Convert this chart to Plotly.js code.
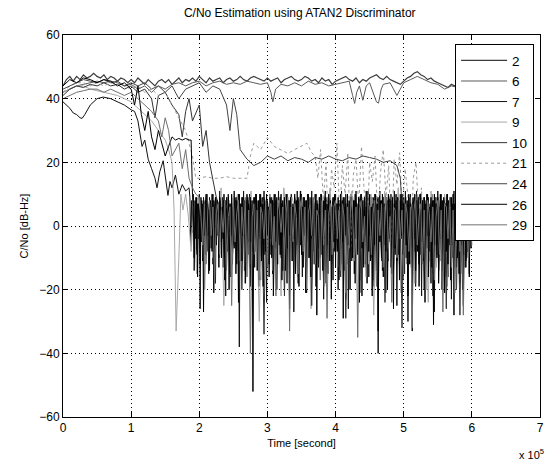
<!DOCTYPE html>
<html>
<head>
<meta charset="utf-8">
<script src="https://cdn.plot.ly/plotly-3.0.1.min.js"></script>
<style>html,body{margin:0;padding:0;background:#fff;}#chart{width:550px;height:462px;}</style>
</head>
<body>
<div id="chart"></div>
<script>
// Time axis in units of 1e5 seconds
const prnLabels = ['2','6','7','9','10','21','24','26','29'];

// ---- PRN 2: stays locked, uniformly sampled ----
const s2_start = 0, s2_step = 0.05;
const s2_v = [44,46,47,45.5,47,46,47.5,46.5,47,48, 47,46.5,47.5,46,47,46.5,45.5,46.5,46,45,
  46,45,46.5,45.5,44.5,46,45,44,45.5,46, 45,46,44.5,45.5,46.5,45,46,45.5,46.5,45.5,
  47,46,45,46.5,45.5,46,46.5,45,46,46.5, 45.5,46,47,46,45.5,46.5,47,46.5,46,45.5,
  46.5,45.5,46,46.5,45,46,46.5,47,46,45.5, 46,47,46.5,45.5,46,45,46.5,45.5,46,44.5,
  45.5,46,46.5,47,46,45.5,46.5,45,46,45.5, 46.5,47,47.5,46.5,46,47,46,45.5,45,44.5,
  45.5,46.5,47,48,48.5,47.5,47,46,46.5,45.5, 45,44.5,44,43.5,44.5,44,45,44.5];

// ---- tracking (high C/No) segments: time, value pairs ----
const s6_t = [0,0.1,0.2,0.3,0.4,0.5,0.6,0.7,0.8,0.9,1.0,1.1,1.2,1.3,1.4,1.5,1.6,1.7,1.8,1.9,2.0,2.1,2.2,2.3,2.4,2.5,2.6,2.7,2.8,2.9,3.0,3.05,3.08,3.12,3.2,3.3,3.4,3.5,3.6,3.7,3.8,3.9,4.0,4.1,4.2,4.25,4.28,4.31,4.35,4.4,4.45,4.5,4.55,4.6,4.63,4.67,4.7,4.8,4.85,4.9,4.95,5.0,5.1,5.2,5.3,5.4,5.5,5.6,5.7,5.8];
const s6_v = [42,43,44,44.5,45,45.5,45,45.5,45,44,44.5,43,44,42,44,43,44.5,45,44,45,45.5,44,45,45.5,44.5,45,44.5,45.5,45,44.5,45,42,39,43,44.5,44,45,44,45.5,44.5,45,44,44.5,45,45.5,41,38.5,42,44,39.5,44,45,42,39,38.6,43,44.5,45,43,41,43,45,46,47,46,45,44.5,43,44,43.5];

const s7_t = [0,0.05,0.1,0.15,0.2,0.25,0.28,0.32,0.4,0.5,0.59,0.7,0.8,0.9,1.0,1.05,1.1,1.16,1.2,1.25,1.3,1.35,1.38,1.42,1.47,1.5,1.54,1.57,1.6,1.65,1.7,1.75,1.8];
const s7_v = [39,38,37,35.5,35,34,33.8,35,38,40,40.5,40,39,38,36.5,36,33,25,27,21,18,15,12,17,20.5,16,9.6,14,12,16,10,13,11];

const s9_t = [0,0.1,0.2,0.3,0.4,0.5,0.6,0.7,0.8,0.9,1.0,1.1,1.2,1.3,1.4,1.5,1.55,1.6,1.63,1.66,1.7,1.73,1.76];
const s9_v = [42,43,44,44,43,42.5,42,41.5,41,40,39,37,35,33,30,27,24,20,5,-33,-10,10,5];

const s10_t = [0,0.1,0.2,0.3,0.4,0.5,0.6,0.7,0.8,0.9,1.0,1.1,1.2,1.3,1.35,1.4,1.5,1.6,1.7,1.75,1.8,1.85,1.9,2.0,2.05,2.1,2.15,2.2,2.25];
const s10_v = [41,43,44,43.5,44.5,44,45,44,44.5,43,44,42,43,40,34,41,42,38,35,28,36,40,33,38,25,30,20,14,9];

const s21_t = [0,0.1,0.2,0.3,0.4,0.5,0.6,0.7,0.8,0.9,1.0,1.1,1.2,1.3,1.4,1.5,1.6,1.7,1.8,1.9,1.95,2.0,2.1,2.2,2.3,2.4,2.5,2.6,2.7,2.75,2.8,2.9,3.0,3.1,3.2,3.3,3.4,3.5,3.58,3.65];
const s21_v = [42,44,45,45,44,45,44,45,44.5,44,43,44,42,43,41,42,38,34,30,22,15,15,15.5,15,15,15.5,15,15,15,22,26,24,27.8,25,24,22.8,24,25,26,23];

const s24_t = [0,0.1,0.2,0.3,0.4,0.5,0.6,0.7,0.8,0.9,1.0,1.1,1.2,1.3,1.4,1.5,1.6,1.7,1.8,1.9,2.0,2.1,2.2,2.3,2.4,2.45,2.5,2.55,2.6,2.7,2.8,2.9,3.0,3.1,3.2,3.3,3.4,3.5,3.6,3.7,3.8,3.9,4.0,4.1,4.2,4.3,4.4,4.5,4.6,4.7,4.8,4.9];
const s24_v = [43,44,45,46,45.5,45,46,45,45.5,44,45,44,45,43,44,42,44,40,43,44,45,42,44,43,38,30,40,35,24,21,19,20,22,21,22,20.5,21.5,21,20,21.5,21,22,21,20.5,21.5,21,22,21.5,21,20,20.5,19];

const s26_t = [0,0.1,0.2,0.3,0.4,0.5,0.6,0.7,0.8,0.9,1.0,1.05,1.1,1.15,1.2,1.25,1.3,1.35,1.4,1.45,1.5,1.55,1.6,1.65,1.7,1.75,1.8,1.85,1.88];
const s26_v = [44,46,45,46.5,46,45,46,45.5,44,45,43,38,44,35,30,36,28,24,30,26,22,25,28,27,27.5,27,27.5,27,27];

const s29_t = [0,0.1,0.2,0.3,0.4,0.5,0.6,0.7,0.8,0.9,1.0,1.1,1.2,1.3,1.4,1.45,1.5,1.55,1.6,1.7,1.75,1.8,1.85,1.9,1.95];
const s29_v = [40,41,42,42.5,43,43,42,43,42,41,42,40,38,36,33,28,34,30,22,26,18,24,15,12,10];

// ---- loss-of-lock (noisy) segments: uniformly sampled values ----
const n7_start = 1.85, n7_step = 0.0125;
const n7_v = [12,9,-6,8,-2,10,-14,6,9,-9, 7,-4,10,-26,5,8,-11,9,-3,7, 10,-8,6,-15,9,4,-7,10,-12,8, 5,-18,9,-3,7,-10,11,6,-5,9,
  -13,8,4,-22,9,-6,10,-2,7,-16, 9,-9,6,11,-4,8,-12,5,10,-38, 7,-7,9,-3,11,-14,6,8,-10,9, -5,10,-19,7,4,-8,9,-13,10,6,
  -2,8,-11,10,-17,6,9,-6,11,-9, 7,-24,8,5,-12,10,-4,9,-15,6, 10,-7,8,-20,6,11,-3,9,-10,7, -14,9,5,-8,10,-18,7,-2,8,-11,
  10,-5,6,-27,9,7,-9,11,-13,8, 4,-6,10,-16,7,9,-3,8,-21,10, 6,-10,9,-4,11,-12,7,-8,10,-19, 8,5,-13,9,-2,10,-9,6,-23,8,
  11,-6,7,-15,9,-4,10,-11,6,-17, 9,-8,10,-3,7,-20,8,5,-12,11, -5,9,-14,6,10,-9,8,-26,7,-3, 10,-11,9,-6,8,-18,11,4,-8,9,
  -13,7,10,-22,8,-5,9,-12,6,-7, 11,-16,8,-3,9,-10,7,-19,10,6, -8,9,-40,7,11,-4,8,-14,9,-6, 10,-21,6,8,-11,9,-3,10,-15,7,
  -7,11,-9,8,-25,9,5,-12,10,-4, 8,-17,9,-6,11,-10,7,-30,9,-2, 10,-13,6,8,-8,9,-19,11,-5,7, -12,10,4,-22,8,-7,9,-15,6,10,
  -3,9,-11,7,-18,10,-6,8,-27,9, 5,-9,11,-14,7,-4,10,-20,8,-8, 9,-12,6,10,-16,8,-5,9,-23,7, -10,11,-7,8,-13,9,-3,6,-18,10,
  -6,8,-25,9,4,-11,10,-8,7,-15, 9,-4,7];

const n26_start = 1.9, n26_step = 0.0125;
const n26_v = [10,6,-10,8,-4,9,-16,7,3,-12, 9,-5,7,-27,5,8,-9,10,-3,6, -14,8,5,-8,10,-21,6,9,-6,8, 3,-13,9,7,-10,6,-4,10,-17,8,
  5,-8,9,-20,7,-3,10,-12,6,-7, 9,-15,8,4,-24,10,-6,7,-11,9, -3,8,-18,6,10,-9,7,-13,9,-5, 8,-52,6,9,-7,10,-14,5,8,-4,
  10,-11,7,-19,9,5,-8,10,-3,6, -16,9,7,-10,8,-22,6,10,-5,9, -12,7,4,-9,10,-17,8,-3,9,-14, 6,10,-7,8,-26,9,5,-11,7,-4,
  10,-15,8,-6,9,-19,7,11,-9,6, -13,9,4,-21,8,-5,10,-10,7,-16, 9,-3,8,-12,6,10,-28,7,-7,9, -9,10,5,-14,8,-4,9,-18,7,-6,
  10,-11,8,-23,6,9,-5,10,-13,7, -8,9,-17,5,10,-7,8,-29,9,-3, 7,-12,10,-6,8,-20,9,4,-10,8, -15,10,-4,7,-9,9,-24,6,10,-7,
  8,-13,9,-3,11,-18,7,-8,10,-11, 6,-22,9,8,-6,10,-14,7,-33,9, -5,8,-10,10,-16,7,4,-8,9,-20, 10,-4,8,-13,6,9,-26,7,-7,10,
  -11,9,5,-17,8,-3,10,-9,7,-15, 9,-6,8,-22,10,-12,7,4,-33,9, -4,10,-14,8,-8,9,-19,6,10,-5, 8,-11,9,-24,7,-7,10,-16,6,-3,
  9,-13,8,-31,10,-6,7,-10,9,-18, 6,10,-4,8,-14,9,-21,7,-8,10, -12,8,5,-17,9,-6,10,-28,7,-3, 8,-10,9,-15,7,-5,10,-20,8,-9,
  6,-13,9,-4,7,-16,8,-7,9];

const n10_start = 2.3, n10_step = 0.025;
const n10_v = [6,-3,8,-10,5,2,-15,7,-6,4, 9,-8,3,-20,6,5,-4,8,-12,3, 7,-5,4,-17,9,2,-34,6,-2,5, -9,8,3,-14,6,-6,7,4,-22,5,
  8,-3,6,-11,2,7,-18,5,-7,9, 3,-13,6,4,-25,7,-5,8,2,-10, 5,-19,6,9,-4,3,-12,7,-8,5, 8,-16,4,6,-29,5,-2,7,-10,3,
  6,-6,9,-21,4,5,-13,8,-3,6, -17,5,7,-7,3,-11,9,-24,4,6, -5,8,-14,2,6,-9,5,-32,7,3, -6,7,4,-18,6,-3,8,-12,5,2,
  -20,7,6,-8,4,-15,9,3,-6,5, 8,-11,4,-26,6,7,-4,5,-13,8, 3,-28,6,-7,5,-10,4,7,-3];

const n29_start = 2.0, n29_step = 0.025;
const n29_v = [9,3,-6,7,-12,5,8,-3,6,-18, 4,7,-9,5,-2,8,-14,3,6,-25, 7,-5,4,8,-11,6,-3,9,-16,5, -40,3,7,-8,5,-19,6,4,-4,8,
  -13,5,7,-6,3,-22,8,5,-2,6, -10,4,9,-33,6,-5,7,3,-15,8, 5,-8,6,-20,4,7,-3,9,-12,5, 3,-17,8,-6,5,-29,4,7,-9,6,
  8,-4,5,-14,7,3,-21,6,-7,9, 4,-11,6,-35,5,8,-5,3,-16,7, 6,-9,4,8,-19,5,-3,7,-13,6, 9,-7,3,-24,6,5,-10,8,-4,5,
  -15,7,4,-8,6,-32,5,9,-6,3, 7,-12,5,-20,8,4,-5,6,-17,3, 8,-9,5,-27,7,6,-4,9,-13,5, -21,6,4,-8,7,-28,5,3,-11,6, -6];

const n9_start = 1.8, n9_step = 0.04;
const n9_v = [10,3,-8,6,-15,8,2,-20,7,5, -10,9,-4,12,-25,6,8,-12,5,10, -6,8,-18,4,11,-9,7,-30,6,9, -3,10,-14,5,8,-22,12,4,-8,9,
  6,-16,11,3,-11,8,-26,7,10,-5, 9,-19,6,12,-7,5,-13,10,4,-23, 8,11,-9,6,-17,9,3,-12,10,-28, 7,5,-10,11,-15,6,8,-6,12,-21,
  4,9,-11,7,-18,10,5,-8,6,-24, 11,3,-13,8,-7,10,-19,6,4,-10, 9,-15,7,5,-9,8];

const n21_start = 3.7, n21_step = 0.04;
const n21_v = [22,15,24,8,20,-5,18,12,26,3,19,10,23,-8,16,21,6,25,11,-3,20,14,22,2,17,24,9,19,-6,21,13,23,5,18,10,-12,15,20,4,12,-10];

const n24_start = 4.95, n24_step = 0.025;
const n24_v = [15,6,-4,8,-12,5,9,-7,4,-18,7,3,-9,6,-14,8,2,-5,7,-22,5,9,-3,6,-11,4,8,-16,5,-6,7,-9,3,-20,6,8,-4,5,-13,7,-8,4,2];

function sampleTimes(t0, dt, vals){ return vals.map((_, i) => t0 + i * dt); }

const seriesDefs = [
  {name:'2',  t:sampleTimes(s2_start,s2_step,s2_v), v:s2_v, nt:[], nv:[], color:'#3c3c3c', dash:'solid', w:1.2},
  {name:'6',  t:s6_t,  v:s6_v,  nt:[], nv:[], color:'#5a5a5a', dash:'solid', w:1},
  {name:'7',  t:s7_t,  v:s7_v,  nt:sampleTimes(n7_start,n7_step,n7_v), nv:n7_v, color:'#111111', dash:'solid', w:1},
  {name:'9',  t:s9_t,  v:s9_v,  nt:sampleTimes(n9_start,n9_step,n9_v), nv:n9_v, color:'#a8a8a8', dash:'solid', w:1},
  {name:'10', t:s10_t, v:s10_v, nt:sampleTimes(n10_start,n10_step,n10_v), nv:n10_v, color:'#333333', dash:'solid', w:1},
  {name:'21', t:s21_t, v:s21_v, nt:sampleTimes(n21_start,n21_step,n21_v), nv:n21_v, color:'#9a9a9a', dash:'dot', w:1},
  {name:'24', t:s24_t, v:s24_v, nt:sampleTimes(n24_start,n24_step,n24_v), nv:n24_v, color:'#444444', dash:'solid', w:1},
  {name:'26', t:s26_t, v:s26_v, nt:sampleTimes(n26_start,n26_step,n26_v), nv:n26_v, color:'#000000', dash:'solid', w:1},
  {name:'29', t:s29_t, v:s29_v, nt:sampleTimes(n29_start,n29_step,n29_v), nv:n29_v, color:'#707070', dash:'solid', w:1}
];

const traces = seriesDefs.map(s => ({
  type:'scatter', mode:'lines', name:s.name,
  x: s.t.concat(s.nt), y: s.v.concat(s.nv),
  line:{color:s.color, width:s.w, dash:s.dash}
}));

const fontFam = 'Liberation Sans, Arial, Helvetica, sans-serif';
const gridStyle = {showgrid:true, gridcolor:'#000', griddash:'1px,3px', gridwidth:1};
const layout = {
  width:550, height:462,
  margin:{l:63, r:10, t:35, b:45},
  paper_bgcolor:'#fff', plot_bgcolor:'#fff',
  font:{family:fontFam, size:11, color:'#000'},
  title:{text:'C/No Estimation using ATAN2 Discriminator', font:{family:fontFam, size:12, color:'#000'}, x:0.545, xanchor:'center', y:0.972, yanchor:'middle'},
  xaxis:Object.assign({range:[0,7], dtick:1, tick0:0,
         zeroline:false, showline:true, linecolor:'#000', linewidth:1, mirror:'ticks', ticks:'inside', ticklen:5, tickcolor:'#000',
         title:{text:'Time [second]', font:{size:11}, standoff:4}, tickfont:{size:12}}, gridStyle),
  yaxis:Object.assign({range:[-60,60], dtick:20, tick0:0,
         zeroline:false, showline:true, linecolor:'#000', linewidth:1, mirror:'ticks', ticks:'inside', ticklen:5, tickcolor:'#000',
         title:{text:'C/No [dB-Hz]', font:{size:11}, standoff:8}, tickfont:{size:12}}, gridStyle),
  showlegend:true,
  legend:{x:0.822, xanchor:'left', y:0.976, yanchor:'top', bgcolor:'#fff', bordercolor:'#000', borderwidth:1,
          font:{family:fontFam, size:13.5, color:'#000'}, itemwidth:46, tracegroupgap:0},
  annotations:[{xref:'paper', yref:'paper', x:1.012, y:-0.097, xanchor:'right', yanchor:'middle', showarrow:false,
                text:'x 10<sup>5</sup>', font:{family:fontFam, size:11, color:'#000'}}]
};

Plotly.newPlot('chart', traces, layout, {staticPlot:true, displayModeBar:false});
</script>
</body>
</html>
